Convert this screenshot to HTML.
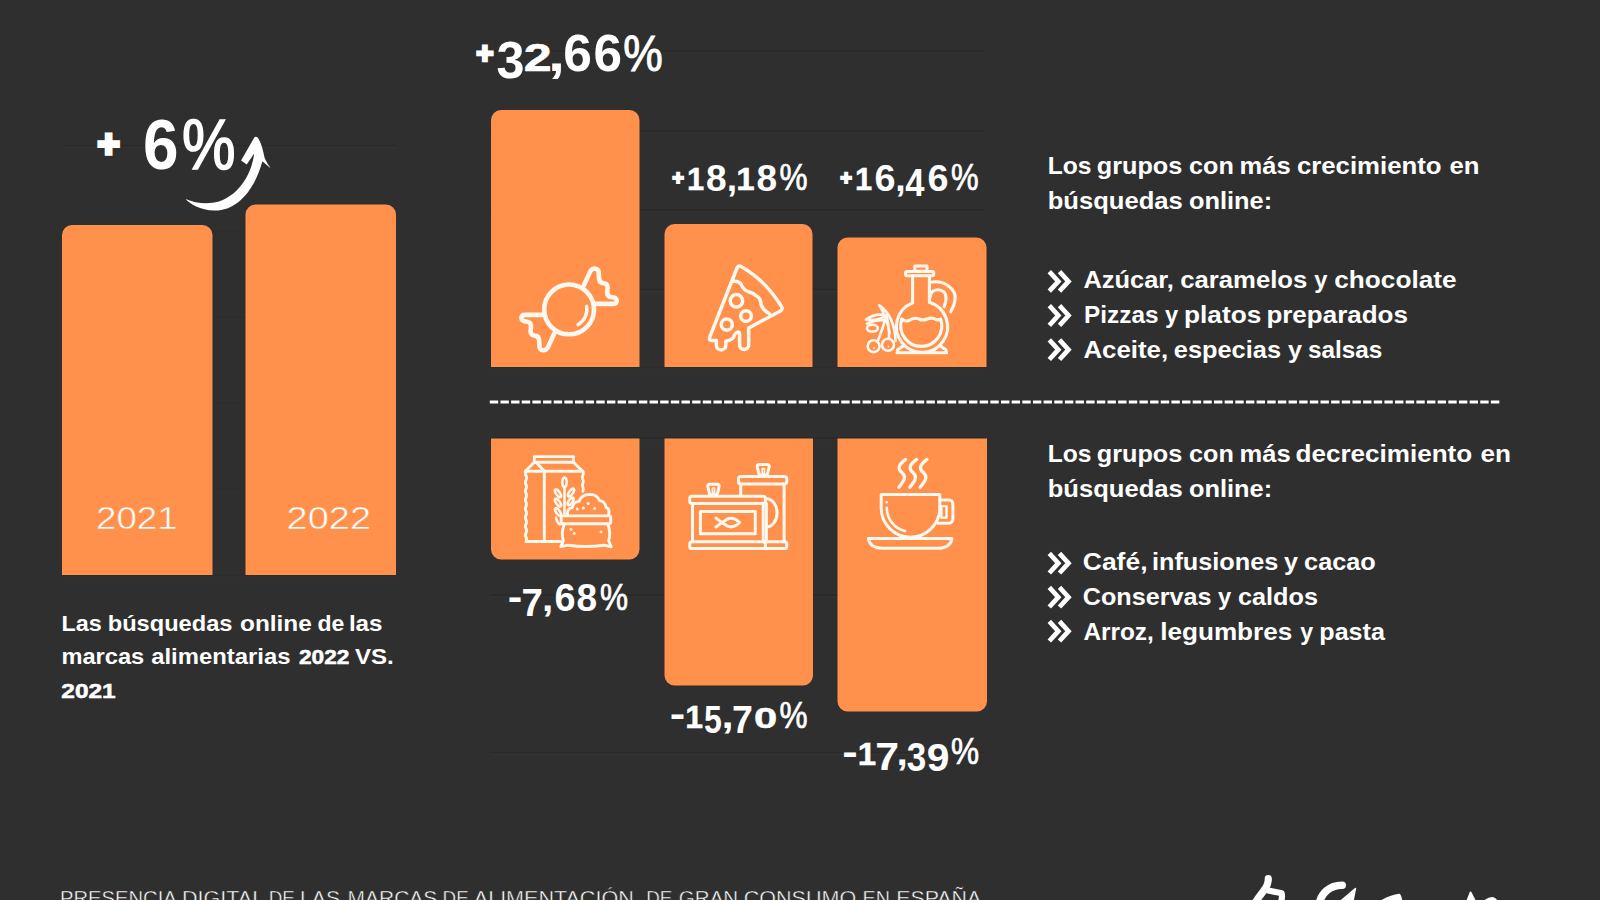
<!DOCTYPE html>
<html lang="es">
<head>
<meta charset="utf-8">
<title>Presencia digital de las marcas de alimentación de gran consumo en España</title>
<style>
  html, body { margin: 0; padding: 0; background: #2f2f2f; }
  body { width: 1600px; height: 900px; overflow: hidden; position: relative; }
  svg { position: absolute; left: 0; top: 0; display: block; }
  text { font-family: "Liberation Sans", sans-serif; fill: #ffffff; }
  .b { font-weight: bold; }
  .bar { fill: #ff914d; }
  .grid { stroke: #3c3c3c; stroke-width: 1.2; opacity: 0.55; }
  .ico { fill: none; stroke: #fff8ef; stroke-width: 3.2; stroke-linecap: round; stroke-linejoin: round; }
</style>
</head>
<body>
<svg width="1600" height="900" viewBox="0 0 1600 900">
  <rect x="0" y="0" width="1600" height="900" fill="#2f2f2f"/>

  <!-- faint grid lines -->
  <g id="grid">
    <line x1="62" y1="145.5" x2="397" y2="145.5" stroke="#282828" stroke-width="1.4" opacity="0.56"/>
    <line x1="62" y1="147.5" x2="397" y2="147.5" stroke="#353535" stroke-width="1.1" opacity="0.56"/>
    <line x1="62" y1="231.5" x2="397" y2="231.5" stroke="#282828" stroke-width="1.4" opacity="0.24"/>
    <line x1="62" y1="233.5" x2="397" y2="233.5" stroke="#353535" stroke-width="1.1" opacity="0.24"/>
    <line x1="62" y1="317.5" x2="397" y2="317.5" stroke="#282828" stroke-width="1.4" opacity="0.24"/>
    <line x1="62" y1="319.5" x2="397" y2="319.5" stroke="#353535" stroke-width="1.1" opacity="0.24"/>
    <line x1="62" y1="403.5" x2="397" y2="403.5" stroke="#282828" stroke-width="1.4" opacity="0.24"/>
    <line x1="62" y1="405.5" x2="397" y2="405.5" stroke="#353535" stroke-width="1.1" opacity="0.24"/>
    <line x1="62" y1="489.5" x2="397" y2="489.5" stroke="#282828" stroke-width="1.4" opacity="0.24"/>
    <line x1="62" y1="491.5" x2="397" y2="491.5" stroke="#353535" stroke-width="1.1" opacity="0.24"/>
    <line x1="62" y1="575.6" x2="397" y2="575.6" stroke="#282828" stroke-width="1.4" opacity="0.35"/>
    <line x1="62" y1="577.6" x2="397" y2="577.6" stroke="#353535" stroke-width="1.1" opacity="0.35"/>
    <line x1="490" y1="51.0" x2="985" y2="51.0" stroke="#282828" stroke-width="1.4" opacity="0.70"/>
    <line x1="490" y1="53.0" x2="985" y2="53.0" stroke="#353535" stroke-width="1.1" opacity="0.70"/>
    <line x1="490" y1="131.0" x2="985" y2="131.0" stroke="#282828" stroke-width="1.4" opacity="0.70"/>
    <line x1="490" y1="133.0" x2="985" y2="133.0" stroke="#353535" stroke-width="1.1" opacity="0.70"/>
    <line x1="490" y1="210.0" x2="985" y2="210.0" stroke="#282828" stroke-width="1.4" opacity="0.70"/>
    <line x1="490" y1="212.0" x2="985" y2="212.0" stroke="#353535" stroke-width="1.1" opacity="0.70"/>
    <line x1="490" y1="289.5" x2="985" y2="289.5" stroke="#282828" stroke-width="1.4" opacity="0.70"/>
    <line x1="490" y1="291.5" x2="985" y2="291.5" stroke="#353535" stroke-width="1.1" opacity="0.70"/>
    <line x1="490" y1="367.6" x2="985" y2="367.6" stroke="#282828" stroke-width="1.4" opacity="0.35"/>
    <line x1="490" y1="369.6" x2="985" y2="369.6" stroke="#353535" stroke-width="1.1" opacity="0.35"/>
    <line x1="490" y1="438.0" x2="985" y2="438.0" stroke="#282828" stroke-width="1.4" opacity="0.70"/>
    <line x1="490" y1="440.0" x2="985" y2="440.0" stroke="#353535" stroke-width="1.1" opacity="0.70"/>
    <line x1="490" y1="595.0" x2="985" y2="595.0" stroke="#282828" stroke-width="1.4" opacity="0.70"/>
    <line x1="490" y1="597.0" x2="985" y2="597.0" stroke="#353535" stroke-width="1.1" opacity="0.70"/>
    <line x1="490" y1="752.5" x2="985" y2="752.5" stroke="#282828" stroke-width="1.4" opacity="0.70"/>
    <line x1="490" y1="754.5" x2="985" y2="754.5" stroke="#353535" stroke-width="1.1" opacity="0.70"/>
  </g>

  <!-- left chart bars -->
  <path class="bar" d="M62 575 V235 a10 10 0 0 1 10 -10 H202.5 a10 10 0 0 1 10 10 V575 Z"/>
  <path class="bar" d="M245.5 575 V214.5 a10 10 0 0 1 10 -10 H386 a10 10 0 0 1 10 10 V575 Z"/>

  <!-- growth bars -->
  <path class="bar" d="M491 367 V120 a10 10 0 0 1 10 -10 H629.5 a10 10 0 0 1 10 10 V367 Z"/>
  <path class="bar" d="M664.5 367 V234 a10 10 0 0 1 10 -10 H802.5 a10 10 0 0 1 10 10 V367 Z"/>
  <path class="bar" d="M837.5 367 V247.5 a10 10 0 0 1 10 -10 H976.5 a10 10 0 0 1 10 10 V367 Z"/>

  <!-- decrease bars -->
  <path class="bar" d="M491 438.5 V549.5 a10 10 0 0 0 10 10 H629.5 a10 10 0 0 0 10 -10 V438.5 Z"/>
  <path class="bar" d="M664.5 438.5 V675.5 a10 10 0 0 0 10 10 H803 a10 10 0 0 0 10 -10 V438.5 Z"/>
  <path class="bar" d="M837.5 438.5 V701.5 a10 10 0 0 0 10 10 H977 a10 10 0 0 0 10 -10 V438.5 Z"/>

  <!-- dashed separator -->
  <line x1="489.8" y1="402" x2="1501" y2="402" stroke="#ffffff" stroke-width="3" stroke-dasharray="8.4 2.25"/>



  <!-- ICONS -->
  <g id="ic-candy" class="ico" style="stroke-width:4.6">
    <circle cx="569.1" cy="309.4" r="24.9"/>
    <path d="M586.6 306.3 A17.8 17.8 0 0 1 578 324.8" style="stroke-width:3.4"/>
    <path id="wrap" d="M583.8 285.5 L590.5 270.9 Q593 267.5 596.6 269 Q598.8 270 598.7 273 L599.1 278.8 Q599.5 283 603.5 283.2 Q607.5 283.5 607.6 287.5 L607.2 292 Q607 296.5 611 297 Q616.5 297.5 616.8 300.8 Q616.8 304 613 303.9 L594.5 303.9"/>
    <use href="#wrap" transform="rotate(180 569.1 309.4)"/>
  </g>

  <g id="ic-pizza" class="ico" style="stroke-width:3.5">
    <path d="M737 268 L709.8 336.8 Q708.4 340.4 712 340.4 H716.4 V345.4 A4.7 4.5 0 0 0 725.8 345.4 V341.2 Q731 340.5 733.4 337.5 Q735.5 332 738 332 Q739.6 332.5 739.6 335 V345 A4.55 4.5 0 0 0 748.7 345 V328 L780.4 311 Q783.5 309 781.2 306 Q765 280 741 266.4 Q738.2 265 737 268 Z"/>
    <path d="M732.5 281.3 Q738.5 280.5 741 284 Q743 289.5 748 291.5 Q753 293 756.5 296 Q760.5 298 760.8 303 Q761.5 309 769.2 313.6"/>
    <circle cx="736.4" cy="300.8" r="6.2"/>
    <circle cx="746" cy="316.1" r="5.3"/>
    <circle cx="726.8" cy="324.6" r="5.6"/>
  </g>

  <g id="ic-oil" class="ico" style="stroke-width:3.1">
    <rect x="914.8" y="266" width="12.2" height="5.4"/>
    <rect x="905.6" y="271.5" width="28.1" height="4.3" rx="1.5"/>
    <path d="M912.6 275.8 V302.9 A25.6 25.6 0 1 0 929.4 302.2 V275.8"/>
    <path d="M903.8 345.6 L897.6 349.7 L897 352.7 H946.5 L945.9 349.7 L939.8 345.6"/>
    <path d="M901.9 319.1 A20.5 20.5 0 1 0 940.6 319.1"/>
    <path d="M901.9 319.1 Q905 322 909 320.5 Q914 317 919 319 Q923 321 927 319 Q932 317 936 319.5 Q939 320.5 940.6 319.1"/>
    <path d="M929.4 282.5 C945 279 957 290 955 300 C954.5 305 953 308 950.8 311.8"/>
    <path d="M930 297.2 Q930.5 293 933 291.2 Q938.5 288 944 292 Q948 296.5 944.1 306.9"/>
    <g style="stroke-width:2.6">
      <circle cx="873.6" cy="346.2" r="5.9"/>
      <circle cx="888" cy="344.8" r="6"/>
      <ellipse cx="872.4" cy="328.2" rx="5.4" ry="3.4"/>
      <path d="M879.4 305.4 Q894.5 316 895.6 341 M879.4 305.4 Q887 318 889.6 333"/>
      <path d="M866 319.6 Q876 312.4 886.6 315.6 Q877 321.4 866 319.6 Z"/>
      <path d="M867 323.6 Q877 319 886 320.6"/>
      <path d="M886.6 316 Q882 330 878 340.6"/>
      <path d="M886.6 316 Q889.6 328 889 338.6"/>
      <circle cx="874" cy="348" r="0.9" style="fill:#fff8ef;stroke:none"/>
      <circle cx="888.4" cy="346.6" r="0.9" style="fill:#fff8ef;stroke:none"/>
    </g>
  </g>


  <g id="ic-pack" class="ico" style="stroke-width:2.9">
    <rect x="534.3" y="456.6" width="39.1" height="5.6"/>
    <path d="M534.3 462.2 L525.4 471.3 M573.4 462.2 L582.6 471.3 M537 463.3 L544.3 471.3"/>
    <path d="M525.4 471.3 H582.6"/>
    <path d="M582.9 471.3 q1.2 2 0 4 q-1.2 2 0 4 q1.2 2 0 4 q-1.2 2 0 4 q1.2 2 0 4"/>
    <path d="M526 471.3 q-1.2 2.2 0 4.4 q1.2 2.2 0 4.4 q-1.2 2.2 0 4.4 q1.2 2.2 0 4.4 q-1.2 2.2 0 4.4 q1.2 2.2 0 4.4 q-1.2 2.2 0 4.4 q1.2 2.2 0 4.4 q-1.2 2.2 0 4.4 q1.2 2.2 0 4.4 q-1.2 2.2 0 4.4 q1.2 2.2 0 4.4 q-1.2 2.2 0 4.4 q1.2 2.2 0 4.4 q-1.2 2.2 0 4.4 q1.2 2.2 0 4.2 H560.5"/>
    <path d="M544.3 471.3 V541.5"/>
    <!-- wheat -->
    <g style="stroke-width:2.5">
      <path d="M564.5 487 V514"/>
      <ellipse cx="564.5" cy="482.3" rx="2.2" ry="4.9"/>
      <ellipse cx="558" cy="493.3" rx="1.9" ry="4.6" transform="rotate(-35 558 493.3)"/>
      <ellipse cx="571" cy="492.6" rx="1.9" ry="4.6" transform="rotate(35 571 492.6)"/>
      <ellipse cx="558" cy="502.6" rx="1.9" ry="4.6" transform="rotate(-35 558 502.6)"/>
      <ellipse cx="570.6" cy="501.4" rx="1.9" ry="4.4" transform="rotate(35 570.6 501.4)"/>
      <ellipse cx="558" cy="512" rx="1.9" ry="4.6" transform="rotate(-35 558 512)"/>
      <path d="M556 517.5 q0.5 4.5 3.8 7"/>
    </g>
    <!-- sack -->
    <rect x="561.2" y="515.9" width="49.5" height="7.9" rx="1"/>
    <path d="M564.2 524 Q560.8 534 563.4 540.5 L560.8 546.6 L568 545.2 Q586 547.6 604 545.2 L611.2 546.8 L608.6 540.5 Q611.2 534 607.8 524"/>
    <path d="M567.6 514.4 Q566.8 508.5 572.4 507.6 Q573 501.8 579 501.4 Q581.6 494.6 589.6 494.4 Q597 494.4 599.6 500.6 Q605.2 501.4 606 507.4 Q610.2 509 608.6 514.4"/>
    <g style="fill:#fff8ef;stroke:none">
      <circle cx="577.2" cy="509" r="1.5"/><circle cx="583.3" cy="508" r="1.5"/><circle cx="588.2" cy="503.5" r="1.5"/><circle cx="594.6" cy="508.6" r="1.5"/>
      <circle cx="571" cy="529.5" r="1.4"/><circle cx="574.2" cy="533.5" r="1.4"/><circle cx="601" cy="532" r="1.4"/>
    </g>
  </g>

  <g id="ic-cans" class="ico" style="stroke-width:3">
    <!-- back can -->
    <rect x="738.5" y="476.5" width="48.3" height="7.4" rx="2.4"/>
    <path d="M740.7 483.9 V495.6 M784.1 483.9 V541.8"/>
    <path d="M757.1 466.6 Q757.1 464.6 759.1 464.6 H767.3 Q769.3 464.6 769.3 466.6 L767.2 475 H759.3 Z"/>
    <path d="M762.2 468.5 h2.2 v5 h-2.2 z" style="stroke-width:1.6"/>
    <path d="M766.4 498.8 A10.6 14.1 0 0 1 766.4 527.1"/>
    <path d="M766.4 503.4 V541.8"/>
    <path d="M766 541.8 H784.6 Q786.8 541.8 786.8 544 V546.4 Q786.8 548.6 784.6 548.6 H766"/>
    <!-- front can -->
    <rect x="689.7" y="496.3" width="75.7" height="7.1" rx="2.4"/>
    <path d="M692.5 503.4 V541.8 M763.2 503.4 V541.8"/>
    <rect x="689.7" y="541.8" width="75.7" height="6.8" rx="2.4"/>
    <rect x="700.4" y="511.6" width="54.9" height="22.2"/>
    <path d="M707.7 486.2 Q707.7 484.2 709.7 484.2 H717.2 Q719.2 484.2 719.2 486.2 L717.2 494.8 H709.8 Z"/>
    <path d="M712.4 488 h2.2 v5 h-2.2 z" style="stroke-width:1.6"/>
    <g style="stroke-width:3">
      <path d="M716 518.2 Q722 523 727.5 526.2 Q734 528.6 739.6 522.6 Q734 516.6 727.5 519 Q722 522.2 716 527"/>
    </g>
  </g>

  <g id="ic-cup" class="ico" style="stroke-width:3">
    <path d="M881.2 494.5 H939.8 V507.9 A29.3 29.3 0 0 1 881.2 507.9 Z"/>
    <path d="M886.8 507.9 A23.7 23.7 0 0 0 905 531" style="stroke-width:2.6"/>
    <circle cx="886.7" cy="502.2" r="1.3" style="fill:#fff8ef;stroke:none"/>
    <path d="M939.8 500 H949 A3.9 3.9 0 0 1 952.9 503.9 V519.3 A3.9 3.9 0 0 1 949 523.2 H938"/>
    <rect x="941.4" y="506.1" width="5.1" height="11.6" style="stroke-width:2.4"/>
    <path d="M868.3 538.6 H952 Q950 548.2 938 548.2 H882 Q870 548.2 868.3 538.6 Z"/>
    <g style="stroke-width:3.2">
      <path id="steam" d="M905.6 459.4 C897 465.8 898.2 469.4 901.9 472.5 C906.8 476.8 904.3 480.4 898.8 487.2"/>
      <use href="#steam" x="11"/>
      <use href="#steam" x="21.4"/>
    </g>
  </g>

  <!-- curved arrow -->
  <path id="arrow" fill="#ffffff" d="M185.6 199.1 C190 204 200 210.5 214.4 210.6 C236 211 254 192 262.4 161.3 L270.6 168.3 C267 163 265.5 160 264.6 157.8 C263 150 261 142 257.6 137.6 Q255.6 135.8 254 138 L241.1 160.6 L246.7 164.4 L254.2 153.6 C252 172 241 194 218.9 201.6 C208 204.6 196 203.6 185.6 199.1 Z"/>

  <!-- chevron bullets -->
  <defs>
    <g id="chev" fill="none" stroke="#ffffff" stroke-width="4.7" stroke-linejoin="miter" stroke-linecap="butt" stroke-miterlimit="10">
      <path d="M1.8 -9.8 L10.8 0 L1.8 9.8"/>
      <path d="M12 -9.8 L21 0 L12 9.8"/>
    </g>
  </defs>
  <g fill="#ffffff">
    <use href="#chev" x="1047.5" y="281.4"/>
    <use href="#chev" x="1047.5" y="315.5"/>
    <use href="#chev" x="1047.5" y="349.7"/>
    <use href="#chev" x="1047.5" y="563.2"/>
    <use href="#chev" x="1047.5" y="597.2"/>
    <use href="#chev" x="1047.5" y="631.2"/>
  </g>


  <!-- brand mark (cropped brush strokes) -->
  <g id="logo" fill="none" stroke="#ffffff" stroke-linecap="round" stroke-linejoin="round">
    <path d="M1268.3 878.6 C1268.5 883 1266.5 887 1263.5 891 C1261 894.5 1258 898 1255 903" stroke-width="7.2"/>
    <path d="M1267 890.3 C1271 891 1277 892 1281.6 893.3 C1282.6 896 1282 899 1280.6 904" stroke-width="6.2"/>
    <path d="M1319 905 C1320.5 893.5 1330 885 1342.2 885.2" stroke-width="7.6"/>
    <path d="M1355.4 888.6 L1338.5 903 H1352.5 Z" fill="#ffffff" stroke-width="1.6"/>
    <path d="M1378 903 Q1390 895.5 1399.4 894.6 Q1401.6 897 1401.6 903 Z" fill="#ffffff" stroke-width="1.6"/>
    <path d="M1470.6 892.4 L1466.4 903 H1476 Z" fill="#ffffff" stroke-width="1.8"/>
    <path d="M1481.5 903 Q1487.5 898.2 1492.5 897.8 Q1496 898.4 1498.4 903 Z" fill="#ffffff" stroke-width="1.4"/>
  </g>

  <!-- TEXT -->
  <g id="texts">
  <!-- left chart -->
  <text id="t6" class="b"><tspan x="97.5" y="156.5" font-size="38" stroke-width="3.5" stroke="#ffffff">+</tspan> <tspan x="143.0" y="169" font-size="70" textLength="35.5" lengthAdjust="spacingAndGlyphs">6</tspan><tspan font-weight="normal" x="182.0" y="169" font-size="70" stroke="#ffffff" stroke-width="1.6" textLength="53.5" lengthAdjust="spacingAndGlyphs">%</tspan></text>
  <text id="t2021" x="96.0" y="529" font-size="32" fill="#fff0df" stroke="#ff914d" stroke-width="0.55" textLength="81.5" lengthAdjust="spacingAndGlyphs">2021</text>
  <text id="t2022" x="286.5" y="529" font-size="32" fill="#fff0df" stroke="#ff914d" stroke-width="0.55" textLength="84.5" lengthAdjust="spacingAndGlyphs">2022</text>
  <text id="p1" class="b" y="631" font-size="22.5"><tspan x="61.5" textLength="40.3" lengthAdjust="spacingAndGlyphs">Las</tspan> <tspan x="107.7" textLength="124.8" lengthAdjust="spacingAndGlyphs">búsquedas</tspan> <tspan x="240.0" textLength="71.8" lengthAdjust="spacingAndGlyphs">online</tspan> <tspan x="317.5" textLength="26.8" lengthAdjust="spacingAndGlyphs">de</tspan> <tspan x="348.9" textLength="33.6" lengthAdjust="spacingAndGlyphs">las</tspan></text>
  <text id="p2" class="b" y="664.3" font-size="22.5"><tspan x="61.4" textLength="82.8" lengthAdjust="spacingAndGlyphs">marcas</tspan> <tspan x="151.2" textLength="139.3" lengthAdjust="spacingAndGlyphs">alimentarias</tspan> <tspan x="299.0" font-size="19.4" stroke="#ffffff" stroke-width="0.5" textLength="50.4" lengthAdjust="spacingAndGlyphs">2022</tspan> <tspan x="355.0" textLength="38.8" lengthAdjust="spacingAndGlyphs">VS.</tspan></text>
  <text id="p3" class="b" x="61.3" y="697.5" font-size="19.4" stroke="#ffffff" stroke-width="0.5" textLength="54.4" lengthAdjust="spacingAndGlyphs">2021</text>

  <!-- percent labels -->
  <text id="g1" class="b"><tspan x="476.3" y="63.4" font-size="29.5" stroke-width="2.6" stroke="#ffffff">+</tspan><tspan x="496.4" y="77.7" font-size="52.3" textLength="28.0" lengthAdjust="spacingAndGlyphs">3</tspan><tspan x="523.8" y="70.7" font-size="39.6" stroke="#ffffff" stroke-width="0.60" textLength="27.9" lengthAdjust="spacingAndGlyphs">2</tspan><tspan x="548.1" y="71.2" font-size="50.0" textLength="17.0" lengthAdjust="spacingAndGlyphs">,</tspan><tspan x="563.3" y="71.1" font-size="51.0" textLength="28.6" lengthAdjust="spacingAndGlyphs">6</tspan><tspan x="593.4" y="71.1" font-size="51.0" textLength="28.5" lengthAdjust="spacingAndGlyphs">6</tspan><tspan x="623.3" y="70.6" font-size="49.9" font-weight="normal" stroke="#ffffff" stroke-width="1.00" textLength="39.5" lengthAdjust="spacingAndGlyphs">%</tspan></text>
  <text id="g2" class="b"><tspan x="672.3" y="184.9" font-size="20" stroke-width="1.8" stroke="#ffffff">+</tspan><tspan x="686.9" y="190.4" font-size="32.1" stroke="#ffffff" stroke-width="0.44" textLength="17.2" lengthAdjust="spacingAndGlyphs">1</tspan><tspan x="705.9" y="190.6" font-size="37.6" textLength="20.6" lengthAdjust="spacingAndGlyphs">8</tspan><tspan x="726.8" y="190.6" font-size="36.7" textLength="10.4" lengthAdjust="spacingAndGlyphs">,</tspan><tspan x="736.2" y="190.4" font-size="32.1" stroke="#ffffff" stroke-width="0.44" textLength="18.4" lengthAdjust="spacingAndGlyphs">1</tspan><tspan x="756.4" y="190.6" font-size="37.6" textLength="20.6" lengthAdjust="spacingAndGlyphs">8</tspan><tspan x="779.4" y="190.3" font-size="37.0" font-weight="normal" stroke="#ffffff" stroke-width="0.73" textLength="28.1" lengthAdjust="spacingAndGlyphs">%</tspan></text>
  <text id="g3" class="b"><tspan x="840.3" y="185.2" font-size="20" stroke-width="1.8" stroke="#ffffff">+</tspan><tspan x="854.9" y="190.4" font-size="31.8" stroke="#ffffff" stroke-width="0.44" textLength="17.2" lengthAdjust="spacingAndGlyphs">1</tspan><tspan x="874.4" y="190.6" font-size="37.7" textLength="21.0" lengthAdjust="spacingAndGlyphs">6</tspan><tspan x="895.2" y="190.6" font-size="36.7" textLength="10.4" lengthAdjust="spacingAndGlyphs">,</tspan><tspan x="905.2" y="196.0" font-size="38.3" textLength="19.2" lengthAdjust="spacingAndGlyphs">4</tspan><tspan x="927.4" y="190.6" font-size="37.7" textLength="21.0" lengthAdjust="spacingAndGlyphs">6</tspan><tspan x="950.9" y="190.3" font-size="37.0" font-weight="normal" stroke="#ffffff" stroke-width="0.73" textLength="27.6" lengthAdjust="spacingAndGlyphs">%</tspan></text>
  <text id="d1" class="b"><tspan x="507.7" y="608.9" font-size="36.7" stroke="none" textLength="14.5" lengthAdjust="spacingAndGlyphs">-</tspan><tspan x="521.5" y="616.0" font-size="38.6" textLength="21.4" lengthAdjust="spacingAndGlyphs">7</tspan><tspan x="542.1" y="610.7" font-size="36.7" textLength="11.3" lengthAdjust="spacingAndGlyphs">,</tspan><tspan x="554.4" y="610.7" font-size="37.9" textLength="21.0" lengthAdjust="spacingAndGlyphs">6</tspan><tspan x="576.4" y="610.7" font-size="37.9" textLength="20.6" lengthAdjust="spacingAndGlyphs">8</tspan><tspan x="599.9" y="610.3" font-size="37.0" font-weight="normal" stroke="#ffffff" stroke-width="0.73" textLength="28.1" lengthAdjust="spacingAndGlyphs">%</tspan></text>
  <text id="d2" class="b"><tspan x="669.8" y="726" font-size="36.7" stroke="none" textLength="15.5" lengthAdjust="spacingAndGlyphs">-</tspan><tspan x="685.3" y="727.8" font-size="31.2" stroke="#ffffff" stroke-width="0.44" textLength="17.8" lengthAdjust="spacingAndGlyphs">1</tspan><tspan x="704.0" y="733.0" font-size="38.4" textLength="17.8" lengthAdjust="spacingAndGlyphs">5</tspan><tspan x="721.4" y="728.0" font-size="36.7" textLength="12.2" lengthAdjust="spacingAndGlyphs">,</tspan><tspan x="732.0" y="733.0" font-size="38.6" textLength="20.9" lengthAdjust="spacingAndGlyphs">7</tspan><tspan x="754.0" y="727.9" font-size="29.8" stroke="#ffffff" stroke-width="0.44" textLength="23.3" lengthAdjust="spacingAndGlyphs">0</tspan><tspan x="779.4" y="727.5" font-size="37.3" font-weight="normal" stroke="#ffffff" stroke-width="0.73" textLength="28.1" lengthAdjust="spacingAndGlyphs">%</tspan></text>
  <text id="d3" class="b"><tspan x="842.2" y="763.6" font-size="36.7" stroke="none" textLength="15.5" lengthAdjust="spacingAndGlyphs">-</tspan><tspan x="857.7" y="764.6" font-size="31.0" stroke="#ffffff" stroke-width="0.44" textLength="18.4" lengthAdjust="spacingAndGlyphs">1</tspan><tspan x="875.3" y="770.2" font-size="38.1" textLength="23.8" lengthAdjust="spacingAndGlyphs">7</tspan><tspan x="896.6" y="764.8" font-size="36.7" textLength="11.3" lengthAdjust="spacingAndGlyphs">,</tspan><tspan x="906.8" y="770.6" font-size="40.0" textLength="19.5" lengthAdjust="spacingAndGlyphs">3</tspan><tspan x="926.8" y="770.6" font-size="39.4" textLength="22.7" lengthAdjust="spacingAndGlyphs">9</tspan><tspan x="950.9" y="764.3" font-size="37.0" font-weight="normal" stroke="#ffffff" stroke-width="0.73" textLength="28.1" lengthAdjust="spacingAndGlyphs">%</tspan></text>

  <!-- right headings -->
  <text id="h1a" class="b" y="174.4" font-size="24.5"><tspan x="1047.7" textLength="43.8" lengthAdjust="spacingAndGlyphs">Los</tspan> <tspan x="1096.8" textLength="85.5" lengthAdjust="spacingAndGlyphs">grupos</tspan> <tspan x="1189.0" textLength="44.8" lengthAdjust="spacingAndGlyphs">con</tspan> <tspan x="1239.6" textLength="51.1" lengthAdjust="spacingAndGlyphs">más</tspan> <tspan x="1296.9" textLength="144.7" lengthAdjust="spacingAndGlyphs">crecimiento</tspan> <tspan x="1449.4" textLength="30.0" lengthAdjust="spacingAndGlyphs">en</tspan></text>
  <text id="h1b" class="b" y="209.1" font-size="24.5"><tspan x="1047.7" textLength="135.1" lengthAdjust="spacingAndGlyphs">búsquedas</tspan> <tspan x="1189.0" textLength="83.1" lengthAdjust="spacingAndGlyphs">online:</tspan></text>
  <text id="l1" class="b" y="288.3" font-size="24.5"><tspan x="1083.4" textLength="90.5" lengthAdjust="spacingAndGlyphs">Azúcar,</tspan> <tspan x="1180.2" textLength="127.2" lengthAdjust="spacingAndGlyphs">caramelos</tspan> <tspan x="1314.3" textLength="13.2" lengthAdjust="spacingAndGlyphs">y</tspan> <tspan x="1334.3" textLength="122.3" lengthAdjust="spacingAndGlyphs">chocolate</tspan></text>
  <text id="l2" class="b" y="323.3" font-size="24.5"><tspan x="1084.1" textLength="74.5" lengthAdjust="spacingAndGlyphs">Pizzas</tspan> <tspan x="1165.1" textLength="13.2" lengthAdjust="spacingAndGlyphs">y</tspan> <tspan x="1184.0" textLength="77.3" lengthAdjust="spacingAndGlyphs">platos</tspan> <tspan x="1266.4" textLength="141.5" lengthAdjust="spacingAndGlyphs">preparados</tspan></text>
  <text id="l3" class="b" y="358.3" font-size="24.5"><tspan x="1083.4" textLength="84.8" lengthAdjust="spacingAndGlyphs">Aceite,</tspan> <tspan x="1173.8" textLength="107.2" lengthAdjust="spacingAndGlyphs">especias</tspan> <tspan x="1287.9" textLength="14.0" lengthAdjust="spacingAndGlyphs">y</tspan> <tspan x="1307.9" textLength="74.3" lengthAdjust="spacingAndGlyphs">salsas</tspan></text>

  <text id="h2a" class="b" y="461.7" font-size="24.5"><tspan x="1047.7" textLength="43.8" lengthAdjust="spacingAndGlyphs">Los</tspan> <tspan x="1096.8" textLength="85.5" lengthAdjust="spacingAndGlyphs">grupos</tspan> <tspan x="1189.0" textLength="44.8" lengthAdjust="spacingAndGlyphs">con</tspan> <tspan x="1239.6" textLength="51.1" lengthAdjust="spacingAndGlyphs">más</tspan> <tspan x="1295.5" textLength="176.7" lengthAdjust="spacingAndGlyphs">decrecimiento</tspan> <tspan x="1480.5" textLength="30.5" lengthAdjust="spacingAndGlyphs">en</tspan></text>
  <text id="h2b" class="b" y="496.7" font-size="24.5"><tspan x="1047.7" textLength="135.1" lengthAdjust="spacingAndGlyphs">búsquedas</tspan> <tspan x="1189.0" textLength="83.1" lengthAdjust="spacingAndGlyphs">online:</tspan></text>
  <text id="l4" class="b" y="570" font-size="24.5"><tspan x="1082.8" textLength="64.7" lengthAdjust="spacingAndGlyphs">Café,</tspan> <tspan x="1152.0" textLength="126.3" lengthAdjust="spacingAndGlyphs">infusiones</tspan> <tspan x="1284.1" textLength="14.0" lengthAdjust="spacingAndGlyphs">y</tspan> <tspan x="1304.1" textLength="71.7" lengthAdjust="spacingAndGlyphs">cacao</tspan></text>
  <text id="l5" class="b" y="605.0" font-size="24.5"><tspan x="1082.8" textLength="128.6" lengthAdjust="spacingAndGlyphs">Conservas</tspan> <tspan x="1218.0" textLength="13.2" lengthAdjust="spacingAndGlyphs">y</tspan> <tspan x="1238.0" textLength="80.0" lengthAdjust="spacingAndGlyphs">caldos</tspan></text>
  <text id="l6" class="b" y="640.0" font-size="24.5"><tspan x="1083.4" textLength="70.4" lengthAdjust="spacingAndGlyphs">Arroz,</tspan> <tspan x="1160.2" textLength="132.1" lengthAdjust="spacingAndGlyphs">legumbres</tspan> <tspan x="1300.3" textLength="12.9" lengthAdjust="spacingAndGlyphs">y</tspan> <tspan x="1319.3" textLength="65.6" lengthAdjust="spacingAndGlyphs">pasta</tspan></text>

  <!-- footer -->
  <text id="foot" y="904.5" font-size="19.5" stroke="#2f2f2f" stroke-width="0.45"><tspan x="60.0" textLength="115.7" lengthAdjust="spacingAndGlyphs">PRESENCIA</tspan> <tspan x="182.1" textLength="81.2" lengthAdjust="spacingAndGlyphs">DIGITAL</tspan> <tspan x="268.8" textLength="26.1" lengthAdjust="spacingAndGlyphs">DE</tspan> <tspan x="300.1" textLength="39.9" lengthAdjust="spacingAndGlyphs">LAS</tspan> <tspan x="347.6" textLength="89.7" lengthAdjust="spacingAndGlyphs">MARCAS</tspan> <tspan x="442.6" textLength="26.1" lengthAdjust="spacingAndGlyphs">DE</tspan> <tspan x="473.8" textLength="159.9" lengthAdjust="spacingAndGlyphs">ALIMENTACIÓN</tspan> <tspan x="646.3" textLength="26.1" lengthAdjust="spacingAndGlyphs">DE</tspan> <tspan x="678.8" textLength="59.4" lengthAdjust="spacingAndGlyphs">GRAN</tspan> <tspan x="743.8" textLength="112.4" lengthAdjust="spacingAndGlyphs">CONSUMO</tspan> <tspan x="862.5" textLength="27.4" lengthAdjust="spacingAndGlyphs">EN</tspan> <tspan x="896.3" textLength="84.9" lengthAdjust="spacingAndGlyphs">ESPAÑA</tspan></text>
  </g>
</svg>
</body>
</html>
